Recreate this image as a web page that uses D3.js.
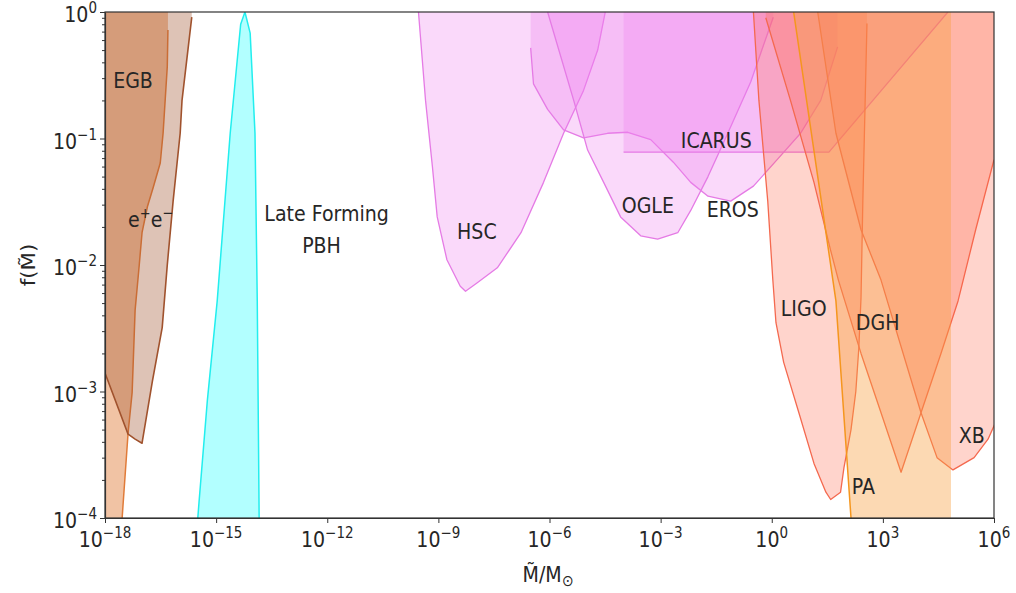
<!DOCTYPE html>
<html>
<head>
<meta charset="utf-8">
<script src="https://cdn.jsdelivr.net/npm/d3@7"></script>
<style>
body{margin:0;background:#fff}
text{font-family:"DejaVu Sans",sans-serif;fill:#262626}
</style>
</head>
<body>
<svg id="chart" width="1016" height="593"></svg>
<script>
// constraint boundaries as [M/Msun, f]
var egbLine = [[2.9e-18,1e-4],[4.2e-18,4.7e-4],[5.4e-18,9.8e-4],[6.5e-18,4.4e-3],[8.3e-18,9.6e-3],[1.0e-17,0.018],
    [1.4e-17,0.029],[2.0e-17,0.041],[3.1e-17,0.064],[3.7e-17,0.11],[4.8e-17,0.37],[5.0e-17,0.72]];
var epemLine = [[1e-18,1.4e-3],[4.2e-18,4.6e-4],[6.5e-18,4.2e-4],[1.0e-17,3.9e-4],[1.9e-17,1.2e-3],[3.5e-17,3.2e-3],
    [4.8e-17,0.010],[6.9e-17,0.032],[1.07e-16,0.11],[1.2e-16,0.20],[2.2e-16,0.91]];
var lateLine = [[3.2e-16,1e-4],[3.5e-16,1.4e-4],[5.8e-16,8.5e-4],[1.07e-15,5.2e-3],[2.4e-15,0.11],[4.6e-15,0.8],[6.0e-15,1.0],
    [8.3e-15,0.68],[1.12e-14,0.11],[1.29e-14,5.2e-3],[1.45e-14,1e-4]];
var hscLine = [[2.9e-10,1],[4.5e-10,0.20],[6.9e-10,0.060],[9.3e-10,0.024],[1.7e-9,0.011],[3.9e-9,6.8e-3],[5.4e-9,6.2e-3],
    [1.1e-8,7.2e-3],[3.9e-8,9.5e-3],[1.7e-7,0.018],[6.9e-7,0.045],[2.4e-6,0.11],[8.3e-6,0.24],[2.0e-5,0.50],[3.2e-5,1]];
var ogleLine = [[8.9e-7,1],[4.5e-6,0.20],[1.07e-5,0.081],[2.9e-5,0.045],[8.3e-5,0.024],[2.9e-4,0.017],[8.3e-4,0.016],
    [2.9e-3,0.018],[6.5e-3,0.027],[0.019,0.050],[0.065,0.11],[0.27,0.28],[1.1,0.91]];
var erosLine = [[3.1e-7,0.52],[3.7e-7,0.27],[8.9e-7,0.17],[2.4e-6,0.117],[8.3e-6,0.101],[3.7e-5,0.11],[1.3e-4,0.112],
    [5.4e-4,0.098],[2.2e-3,0.065],[6.5e-3,0.045],[0.019,0.035],[0.078,0.032],[0.32,0.042],[1.4,0.068],[6.0,0.11],[21,0.20],[60,0.53]];
var icarusLine = [[1e-4,0.078],[35,0.078],[5.7e4,1]];
var ligoLine = [[0.32,1],[0.45,0.20],[0.78,0.032],[1.07,7.6e-3],[1.3,3.5e-3],[2.1,1.7e-3],[5.4,6.8e-4],[13.8,2.7e-4],
    [29,1.6e-4],[39,1.4e-4],[72,1.6e-4],[89,2.5e-4],[138,5.0e-4],[186,1.0e-3],[224,2.2e-3],[257,5.5e-3],[288,0.032],[372,0.81]];
var dghLine = [[0.69,0.90],[3.2,0.20],[13.8,0.045],[39,0.013],[63,7.6e-3],[257,2.0e-3],[891,6.8e-4],[3.1e3,2.3e-4],
    [1.07e4,6.8e-4],[3.7e4,2.0e-3],[1.07e5,5.2e-3],[3.2e5,0.019],[1e6,0.068]];
var xbLine = [[17.4,1],[54,0.11],[257,0.019],[891,7.6e-3],[1.07e4,6.8e-4],[2.9e4,3.0e-4],[7.8e4,2.4e-4],[2.9e5,3.0e-4],
    [6.9e5,4.2e-4],[1.07e6,5.6e-4]];
var paLine = [[3.9,1],[54,5.2e-3],[138,1e-4]];
var paMaxM = 6.9e4;

var xTicks = [1e-18,1e-15,1e-12,1e-9,1e-6,1e-3,1,1e3,1e6];
var yTicks = [1e-4,1e-3,1e-2,1e-1,1];
var yMinor = [2,3,4,5,6,7,8,9];

var labels = [
    {t:"EGB", m:1.66e-18, f:0.25},
    {t:"e", sup:"+", t2:"e", sup2:"\u2212", m:4.2e-18, f:0.020},
    {t:"Late Forming", m:2.0e-14, f:0.0223},
    {t:"PBH", m:2.1e-13, f:0.0124},
    {t:"HSC", m:3.2e-9, f:0.016},
    {t:"OGLE", m:8.9e-5, f:0.0258},
    {t:"EROS", m:0.0175, f:0.0239},
    {t:"ICARUS", m:3.5e-3, f:0.084},
    {t:"LIGO", m:1.75, f:3.95e-3},
    {t:"DGH", m:186, f:3.06e-3},
    {t:"PA", m:145, f:1.55e-4},
    {t:"XB", m:1.12e5, f:3.9e-4}
];

var svg = d3.select("#chart");
var x = d3.scaleLog().domain([1e-18,1e6]).range([105,994]);
var y = d3.scaleLog().domain([1e-4,1]).range([518,12]);
var sy = 1.12; // vertical stretch of the original picture's text

svg.append("clipPath").attr("id","plotclip")
    .append("rect").attr("x",105).attr("y",12).attr("width",889).attr("height",506);

var plot = svg.append("g").attr("clip-path","url(#plotclip)");
var line = d3.line().x(function(d){return x(d[0]);}).y(function(d){return y(d[1]);});

function topClose(c){
    return [[c[c.length-1][0],1],[c[0][0],1]];
}

function drawRegion(curve,extra,fill,op,stroke,sw){
    plot.append("path")
        .attr("d", line(curve.concat(extra))+"Z")
        .style("fill",fill)
        .style("fill-opacity",op)
        .style("stroke","none");
    plot.append("path")
        .attr("d", line(curve))
        .style("fill","none")
        .style("stroke",stroke)
        .style("stroke-width",sw)
        .style("stroke-linejoin","round");
}

drawRegion(egbLine,[[egbLine[egbLine.length-1][0],1],[1e-18,1],[1e-18,1e-4]],"#e6915a",0.55,"#e07b39",1.5);
drawRegion(epemLine,topClose(epemLine),"#a0522d",0.35,"#a0522d",1.6);
drawRegion(lateLine,[],"#00ffff",0.3,"#22eeee",1.5);
drawRegion(hscLine,topClose(hscLine),"#ee82ee",0.3,"#e57be5",1.3);
drawRegion(erosLine,topClose(erosLine),"#ee82ee",0.3,"#e57be5",1.3);
drawRegion(ogleLine,topClose(ogleLine),"#ee82ee",0.3,"#e57be5",1.3);
drawRegion(icarusLine,[[1e-4,1]],"#ee82ee",0.3,"#e57be5",1.3);
drawRegion(ligoLine,topClose(ligoLine),"#ff6347",0.28,"#f4694f",1.3);
drawRegion(dghLine,topClose(dghLine),"#ff6347",0.28,"#f4694f",1.3);
drawRegion(xbLine,topClose(xbLine),"#ff6347",0.28,"#f4694f",1.3);
drawRegion(paLine,[[paMaxM,1e-4],[paMaxM,1],[paLine[0][0],1]],"#f8a040",0.4,"#f5961e",1.5);

// labels
labels.forEach(function(l){
    var t = svg.append("text")
        .attr("transform","translate("+x(l.m)+","+y(l.f)+") scale(1,"+sy+")")
        .style("font-size","19px");
    t.append("tspan").text(l.t);
    if(l.sup){
        t.append("tspan").attr("dy",-8).style("font-size","13px").text(l.sup);
        t.append("tspan").attr("dy",8).text(l.t2);
        t.append("tspan").attr("dy",-8).style("font-size","13px").text(l.sup2);
    }
});

// axes
var xAxis = d3.axisBottom(x).tickValues(xTicks).tickSize(5).tickSizeOuter(0).tickFormat("");
var gx = svg.append("g").attr("transform","translate(0,518)").call(xAxis);
var yAxis = d3.axisLeft(y).tickValues(yTicks).tickSize(5).tickSizeOuter(0).tickFormat("");
var gy = svg.append("g").attr("transform","translate(105,0)").call(yAxis);
var minorVals = [];
yTicks.slice(0,-1).forEach(function(v){ yMinor.forEach(function(m){ minorVals.push(m*v); }); });
var gym = svg.append("g").attr("transform","translate(105,0)")
    .call(d3.axisLeft(y).tickValues(minorVals).tickSize(3).tickSizeOuter(0).tickFormat(""));
gym.select(".domain").remove();
[gx,gy,gym].forEach(function(g){
    g.selectAll("line").style("stroke","#333").style("stroke-width",1);
    g.select(".domain").style("stroke","#333").style("stroke-width",1.2);
});

// frame
svg.append("rect").attr("x",105).attr("y",12).attr("width",889).attr("height",506)
    .style("fill","none").style("stroke","#333").style("stroke-width",1.2);

function expLabel(v){
    var e = Math.round(Math.log10(v));
    return e<0 ? "\u2212"+(-e) : ""+e;
}

xTicks.forEach(function(v){
    var t = svg.append("text")
        .attr("transform","translate("+x(v)+",547) scale(1,"+sy+")")
        .attr("text-anchor","middle")
        .style("font-size","19px");
    t.append("tspan").text("10");
    t.append("tspan").attr("dy",-8).style("font-size","13.5px").text(expLabel(v));
});

yTicks.forEach(function(v){
    var t = svg.append("text")
        .attr("transform","translate(97,"+(y(v)+10)+") scale(1,"+sy+")")
        .attr("text-anchor","end")
        .style("font-size","19px");
    t.append("tspan").text("10");
    t.append("tspan").attr("dy",-8).style("font-size","13.5px").text(expLabel(v));
});

// axis titles
var xt = svg.append("text")
    .attr("transform","translate(548,582) scale(1,"+sy+")")
    .attr("text-anchor","middle")
    .style("font-size","19px");
xt.append("tspan").text("M\u0303/M");
xt.append("tspan").attr("dy",4).style("font-size","14px").text("\u2299");

svg.append("text")
    .attr("transform","translate(35,265) scale(1,"+sy+") rotate(-90)")
    .attr("text-anchor","middle")
    .style("font-size","19px")
    .text("f(M\u0303)");
</script>
</body>
</html>
